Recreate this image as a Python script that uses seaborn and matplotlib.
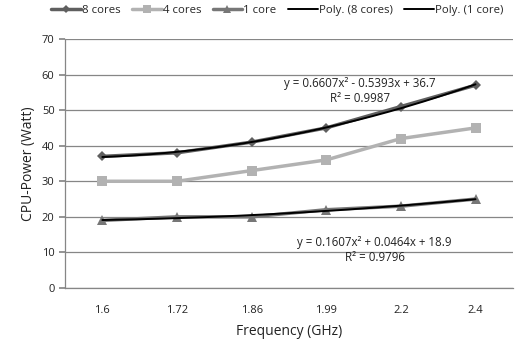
import numpy as np
import pandas as pd
import matplotlib
matplotlib.use("Agg")
import matplotlib.pyplot as plt
import seaborn as sns

# Data
freqs = ["1.6", "1.72", "1.86", "1.99", "2.2", "2.4"]
cores8 = [37, 38, 41, 45, 51, 57]
cores4 = [30, 30, 33, 36, 42, 45]
cores1 = [19, 20, 20, 22, 23, 25]

sns.set_theme(style="white")
plt.rcParams["font.family"] = ["Open Sans", "DejaVu Sans"]

fig = plt.figure(figsize=(5.18, 3.51), dpi=100)
ax = fig.add_axes([0.1255, 0.1795, 0.8645, 0.7095])

pos = np.arange(len(freqs))
df = pd.DataFrame({"pos": pos, "8 cores": cores8, "4 cores": cores4, "1 core": cores1})

styles = [("8 cores", "#5f5f5f", "D", 5),
          ("4 cores", "#b2b2b2", "s", 7),
          ("1 core", "#777777", "^", 7)]
for name, col, mk, ms in styles:
    sns.lineplot(data=df, x="pos", y=name, ax=ax, color=col, marker=mk,
                 markersize=ms, markeredgewidth=0, linewidth=2.5, label=name)

# Excel-style 2nd order polynomial trendlines (x = 1..n)
xs = np.linspace(1, len(freqs), 200)
for name, vals in [("Poly. (8 cores)", cores8), ("Poly. (1 core)", cores1)]:
    coef = np.polyfit(np.arange(1, len(freqs) + 1), vals, 2)
    ax.plot(xs - 1, np.polyval(coef, xs), color="black", linewidth=1.4, label=name)

eq_kw = dict(ha="center", va="center", fontsize=8.3, color="#222222")
ax.text(3.45, 57.6, "y = 0.6607x² - 0.5393x + 36.7", **eq_kw)
ax.text(3.45, 53.4, "R² = 0.9987", **eq_kw)
ax.text(3.65, 12.9, "y = 0.1607x² + 0.0464x + 18.9", **eq_kw)
ax.text(3.65, 8.7, "R² = 0.9796", **eq_kw)

ax.set_xlim(-0.5, len(freqs) - 0.5)
ax.set_ylim(0, 70)
ax.set_yticks(range(0, 71, 10))
ax.set_xticks(pos)
ax.set_xticklabels(freqs)
ax.tick_params(axis="both", labelsize=8, colors="#222222")
ax.tick_params(axis="y", length=4, color="#868686", direction="out", left=True)
ax.tick_params(axis="x", length=0, pad=12)
ax.grid(axis="y", color="#868686", linewidth=0.9)
ax.set_axisbelow(True)
for s in ["top", "right"]:
    ax.spines[s].set_visible(False)
for s in ["left", "bottom"]:
    ax.spines[s].set_color("#868686")
    ax.spines[s].set_linewidth(0.9)

ax.set_xlabel("Frequency (GHz)", fontsize=10, color="#222222", labelpad=6)
ax.set_ylabel("CPU-Power (Watt)", fontsize=10, color="#222222", labelpad=4)

handles, labels = ax.get_legend_handles_labels()
ax.get_legend().remove()
fig.legend(handles, labels, loc="upper center", bbox_to_anchor=(0.535, 1.015), ncol=5,
           frameon=False, fontsize=8.2, handlelength=2.6, handletextpad=0.1,
           columnspacing=1.0, markerscale=0.8)

fig.savefig("out.png", dpi=100, facecolor="white")
